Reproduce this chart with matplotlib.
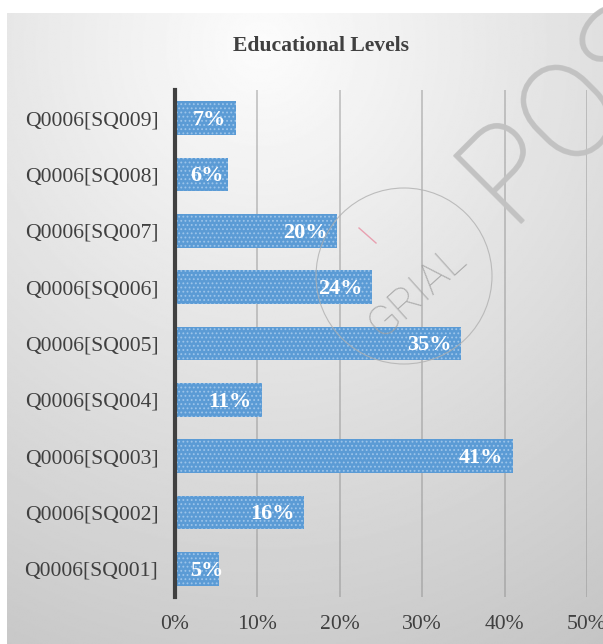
import numpy as np
import matplotlib
matplotlib.use("Agg")
import matplotlib.pyplot as plt
import matplotlib.patheffects as pe
from matplotlib.patches import Circle
from matplotlib.lines import Line2D

categories = ["Q0006[SQ001]", "Q0006[SQ002]", "Q0006[SQ003]", "Q0006[SQ004]",
              "Q0006[SQ005]", "Q0006[SQ006]", "Q0006[SQ007]", "Q0006[SQ008]",
              "Q0006[SQ009]"]
values = [5.3, 15.6, 41.0, 10.6, 34.7, 23.9, 19.7, 6.4, 7.4]
xticks = [0, 10, 20, 30, 40, 50]
xtick_labels = ["0%", "10%", "20%", "30%", "40%", "50%"]
title = "Educational Levels"

W, H = 603, 644
fig = plt.figure(figsize=(W / 100, H / 100), dpi=100)
fig.patch.set_facecolor("white")

# soft grey radial backdrop of the chart frame
bg = fig.add_axes([7 / W, 0, 1 - 7 / W, 1 - 13 / H])
bg.set_axis_off()
yy, xx = np.mgrid[0:400, 0:400]
cx, cy = 170, 20
r = np.hypot((xx - cx) * 1.0, (yy - cy) * 1.0) / 480
shade = np.clip(252 - 60 * r, 195, 252) / 255
bg.imshow(shade, cmap="gray", vmin=0, vmax=1, aspect="auto",
          extent=[0, 1, 0, 1], origin="upper", interpolation="bilinear")
bg.set_xlim(0, 1)
bg.set_ylim(0, 1)

serif = ["Liberation Serif", "DejaVu Serif"]

ax = fig.add_axes([175 / W, 1 - 597 / H, (587 - 175) / W, (597 - 90) / H])
ax.patch.set_alpha(0)
y = np.arange(len(categories))
ax.barh(y, values, height=0.6, color="#5b9bd5", edgecolor="none", zorder=3)
plt.rcParams["hatch.linewidth"] = 0.8
ax.barh(y, values, height=0.6, facecolor="none", edgecolor="#9cc4ea",
        hatch="....", linewidth=0, zorder=4)

# value labels sit inside the bar end, but never closer than 1.8 to the axis
label_w = 3.2
for yi, v in zip(y, values):
    txt = f"{round(v)}%"
    w = label_w * (len(txt) / 2) ** 0.8
    x_left = max(1.8, v - 2.1 - w)
    ax.text(x_left, yi - 0.03, txt, ha="left", va="center",
            color="white", fontsize=16, fontweight="bold", family=serif,
            zorder=5)

ax.set_xlim(0, 50)
ax.set_ylim(-0.5, len(categories) - 0.5)
ax.set_xticks(xticks)
ax.set_xticklabels(xtick_labels, family=serif, fontsize=15.6, color="#404040")
ax.set_yticks(y)
ax.set_yticklabels(categories, family=serif, fontsize=15.6, color="#404040")
ax.tick_params(axis="x", length=0, pad=13)
ax.tick_params(axis="y", length=0, pad=12)
ax.grid(axis="x", color="#8a8a8a", alpha=0.5, linewidth=1.2, zorder=0)
for s in ["top", "right", "bottom"]:
    ax.spines[s].set_visible(False)
ax.spines["left"].set_color("#404040")
ax.spines["left"].set_linewidth(3)
ax.spines["left"].set_zorder(6)

fig.text(321 / W, 1 - 46 / H, title, ha="center", va="center",
         family=serif, fontsize=15.6, fontweight="bold", color="#404040")

# faint stamp
fig.patches.append(Circle((404, H - 276), 88, transform=None, fill=False,
                          edgecolor="#b0b0b0", linewidth=0.8, alpha=0.8))
fig.lines.append(Line2D([359, 376], [H - 228, H - 243], transform=None,
                        color="#e8a0b0", linewidth=1.0))
fig.text(417 / W, 1 - 291 / H, "GRIAL", rotation=42, ha="center", va="center",
         fontsize=31, family="Roboto", fontweight="light", color="#a0a0a0",
         alpha=0.8)
fig.text(512 / W, 1 - 232 / H, "POS", rotation=45, rotation_mode="anchor",
         ha="left", va="baseline", fontsize=96, family="Roboto",
         fontweight="light", color="#c2c2c2", alpha=0.9,
         path_effects=[pe.withStroke(linewidth=1.5, foreground="#c2c2c2")])

fig.savefig("out.png", dpi=100)
